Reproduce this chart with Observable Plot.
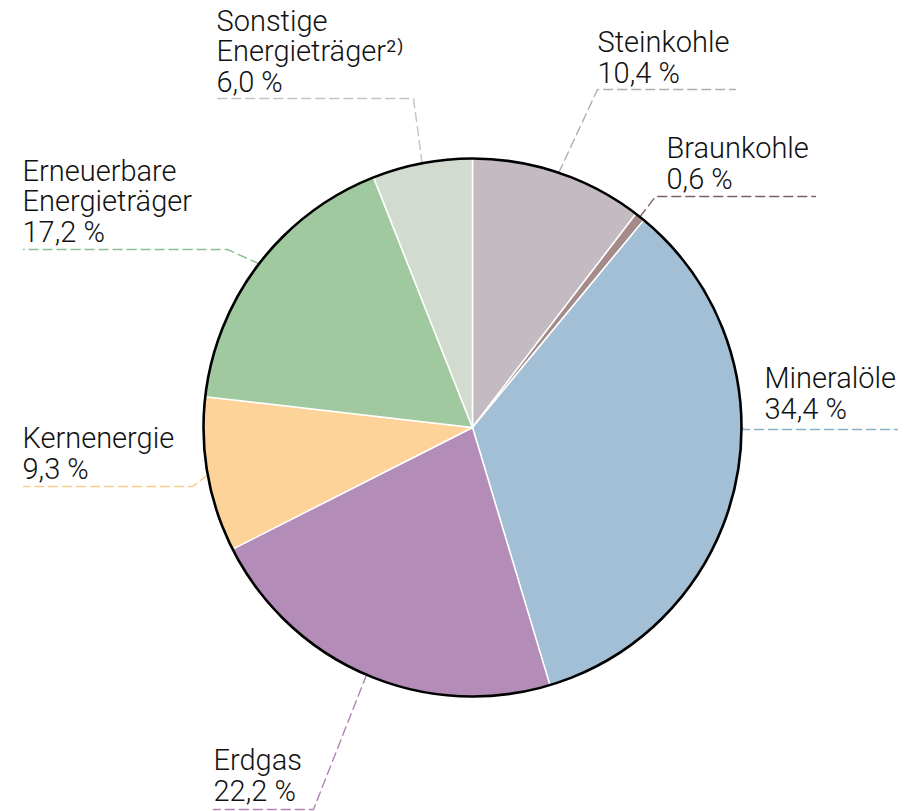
<!DOCTYPE html>
<html><head><meta charset="utf-8">
<script src="https://cdn.jsdelivr.net/npm/d3@7"></script>
<script src="https://cdn.jsdelivr.net/npm/@observablehq/plot@0.6"></script>
<style>
html,body{margin:0;padding:0;background:#fff;}
</style>
</head><body><div id="chart"></div>
<script>
// ---- data ----
const categories = ["Steinkohle","Braunkohle","Mineralöle","Erdgas","Kernenergie","Erneuerbare\nEnergieträger","Sonstige\nEnergieträger²⁾"];
const shares = [10.4, 0.6, 34.4, 22.2, 9.3, 17.2, 6.0];
const sliceColors = ["#c3bbc1","#a48b89","#a2bfd5","#b48cb8","#fdd39a","#a0c99f","#d3dbd1"];
const leaderColors = ["#b3abb1","#7e6260","#8aafc9","#b283b3","#fccb8c","#8dbf8d","#bfc8bc"];

// ---- layout (pixels) ----
const W = 917, H = 811, cx = 472, cy = 427, R = 269;
// leader elbow point, far end x of horizontal part, text anchor (left x, last baseline), optional leader anchor angle (deg)
const labelLayout = [
  {ex: 597, ey: 89,  fx: 735, tx: 597, ty: 82},
  {ex: 655, ey: 196, fx: 815, tx: 666, ty: 188},
  {ex: 743, ey: 429, fx: 897, tx: 764, ty: 418, angle: 90},
  {ex: 313, ey: 809, fx: 213, tx: 213, ty: 800},
  {ex: 192, ey: 486, fx: 23,  tx: 22,  ty: 478},
  {ex: 227, ey: 249, fx: 23,  tx: 22,  ty: 241},
  {ex: 413, ey: 98,  fx: 217, tx: 216, ty: 91}
];

const arcs = d3.pie().sort(null).value(d => d).startAngle(0).endAngle(2 * Math.PI)(shares);
const polar = a => [cx + R * Math.sin(a), cy - R * Math.cos(a)];

// slice polygons
const slicePts = [];
arcs.forEach((a, i) => {
  slicePts.push({k: i, x: cx, y: cy});
  const n = Math.max(2, Math.ceil((a.endAngle - a.startAngle) / 0.01));
  for (let j = 0; j <= n; j++) {
    const t = a.startAngle + (a.endAngle - a.startAngle) * j / n;
    const [x, y] = polar(t);
    slicePts.push({k: i, x, y});
  }
  slicePts.push({k: i, x: cx, y: cy});
});

// leader lines
const leaderPts = [];
arcs.forEach((a, i) => {
  const L = labelLayout[i];
  const ang = L.angle != null ? L.angle * Math.PI / 180 : (a.startAngle + a.endAngle) / 2;
  const [x0, y0] = polar(ang);
  leaderPts.push({k: i, x: x0, y: y0});
  leaderPts.push({k: i, x: L.ex, y: L.ey});
  leaderPts.push({k: i, x: L.fx, y: L.ey});
});

const labels = categories.map((c, i) => ({
  k: i,
  text: `${c}\n${shares[i].toFixed(1).replace(".", ",")} %`,
  x: labelLayout[i].tx, y: labelLayout[i].ty
}));

const chart = Plot.plot({
  width: W, height: H, margin: 0,
  x: {domain: [0, W], range: [0, W], axis: null},
  y: {domain: [0, H], range: [0, H], axis: null},
  style: {background: "#fff"},
  marks: [
    Plot.line(leaderPts, {x: "x", y: "y", z: "k", stroke: d => leaderColors[d.k], strokeWidth: 1.4, strokeDasharray: "9 5"}),
    Plot.line(slicePts, {x: "x", y: "y", z: "k", fill: d => sliceColors[d.k], stroke: "#fff", strokeWidth: 1.5, strokeLinejoin: "round"}),
    Plot.dot([{x: cx, y: cy}], {x: "x", y: "y", r: R, stroke: "#000", strokeWidth: 2.6, fill: "none"}),
    Plot.text(labels, {x: "x", y: "y", text: "text", textAnchor: "start", lineAnchor: "bottom", lineHeight: 1.05,
      fontSize: 29, fontWeight: 300, fill: "#111", fontFamily: "Roboto, 'Liberation Sans', sans-serif"})
  ]
});
document.getElementById("chart").appendChild(chart);
</script>
</body></html>
